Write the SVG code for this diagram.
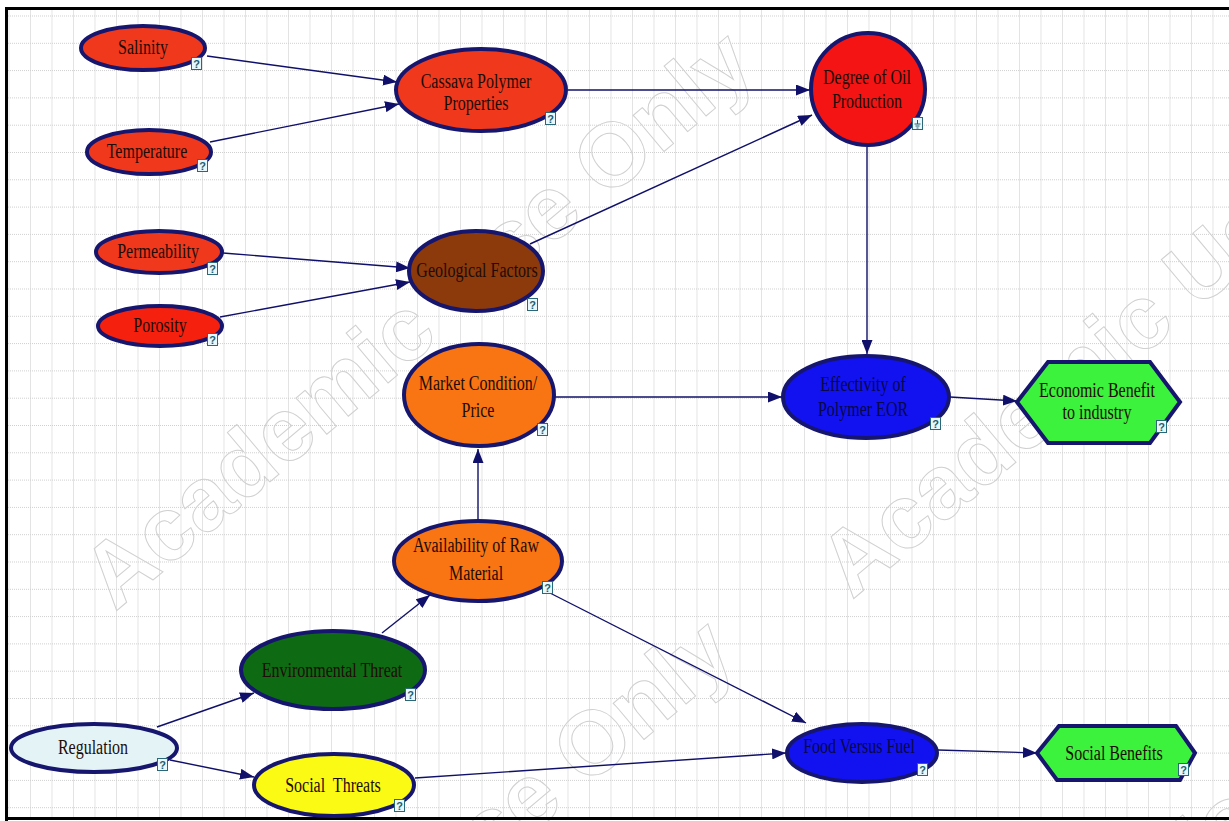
<svg xmlns="http://www.w3.org/2000/svg" xmlns:xlink="http://www.w3.org/1999/xlink" width="1229" height="821" viewBox="0 0 1229 821">
  <defs>
    <style>
      .gv { stroke:#e3e3e3; stroke-width:1; }
      .gh { stroke:#cfcfcf; stroke-width:1; stroke-dasharray:1 1; }
      .wm { font-family:"Liberation Sans", Arial, sans-serif; font-weight:bold; font-size:90px; fill:none; stroke:#d0d0d0; stroke-width:1; }
      .edge { stroke:#10106a; stroke-width:1.4; fill:none; marker-end:url(#arrow); }
      .shape { stroke:#16166e; stroke-width:4; }
      .lbl { font-family:"Liberation Serif", "Times New Roman", serif; font-size:20px; text-anchor:middle; fill:#1e0c08; }
      .dark { fill:#08084a; }
      .qbox { fill:#e8f7fb; stroke:#2a6878; stroke-width:1; }
      .qmark { font-family:"Liberation Sans", Arial, sans-serif; font-weight:bold; font-size:11px; text-anchor:middle; fill:#1c5e70; }
    </style>
    <marker id="arrow" markerUnits="userSpaceOnUse" markerWidth="15" markerHeight="11" refX="14" refY="5.5" orient="auto">
      <path d="M0,0 L14,5.5 L0,11 Z" fill="#10106a"/>
    </marker>
    <!-- small "?" state badge shown at the lower right of each node -->
    <symbol id="q" viewBox="0 0 11 13" width="11" height="13">
      <rect class="qbox" x="0.5" y="0.5" width="10" height="12"/>
      <text class="qmark" x="5.5" y="10.5">?</text>
    </symbol>
    <!-- grid pattern -->
    <pattern id="gridV" x="8.5" y="0" width="21.5" height="821" patternUnits="userSpaceOnUse">
      <line class="gv" x1="0.5" y1="0" x2="0.5" y2="821"/>
    </pattern>
    <pattern id="gridH" x="0" y="15.5" width="1229" height="27.3" patternUnits="userSpaceOnUse">
      <line class="gh" x1="0" y1="0.5" x2="1229" y2="0.5"/>
    </pattern>
  </defs>

  <!-- canvas -->
  <rect x="0" y="0" width="1229" height="821" fill="#ffffff"/>
  <rect x="8" y="10" width="1221" height="807" fill="url(#gridV)"/>
  <rect x="8" y="10" width="1221" height="807" fill="url(#gridH)"/>

  <!-- watermark -->
  <g id="watermark">
    <text class="wm" transform="translate(115,612) rotate(-40)">Academic Use Only</text>
    <text class="wm" transform="translate(852,600) rotate(-40)">Academic Use Only</text>
    <text class="wm" transform="translate(95,1200) rotate(-40)">Academic Use Only</text>
    <text class="wm" transform="translate(832,1190) rotate(-40)">Academic Use Only</text>
  </g>

  <!-- frame -->
  <g id="frame" stroke="#000" stroke-width="3">
    <line x1="6.5" y1="7" x2="6.5" y2="821"/>
    <line x1="5" y1="8.5" x2="1229" y2="8.5"/>
    <line x1="5" y1="818.5" x2="1229" y2="818.5"/>
  </g>

  <!-- connectors -->
  <g id="connectors">
    <line class="edge" x1="207" y1="56" x2="397" y2="82"/>
    <line class="edge" x1="210" y1="142" x2="399" y2="104"/>
    <line class="edge" x1="568" y1="90" x2="810" y2="90"/>
    <line class="edge" x1="530" y1="244" x2="812" y2="115"/>
    <line class="edge" x1="223" y1="253" x2="410" y2="268"/>
    <line class="edge" x1="220" y1="317" x2="410" y2="282"/>
    <line class="edge" x1="867" y1="147" x2="867" y2="354"/>
    <line class="edge" x1="555" y1="397" x2="782" y2="397"/>
    <line class="edge" x1="950" y1="397" x2="1017" y2="401"/>
    <line class="edge" x1="478" y1="520" x2="478" y2="449"/>
    <line class="edge" x1="382" y1="633" x2="430" y2="595"/>
    <line class="edge" x1="548" y1="592" x2="806" y2="723"/>
    <line class="edge" x1="157" y1="727" x2="254" y2="693"/>
    <line class="edge" x1="170" y1="760" x2="254" y2="777"/>
    <line class="edge" x1="415" y1="778" x2="786" y2="753"/>
    <line class="edge" x1="938" y1="750" x2="1037" y2="753"/>
  </g>

  <!-- nodes -->
  <g id="salinity">
    <ellipse class="shape" cx="143" cy="48" rx="62" ry="22" fill="#f0381c"/>
    <text class="lbl" transform="translate(143,54) scale(0.8,1)">Salinity</text>
    <use href="#q" x="191" y="57"/>
  </g>
  <g id="temperature">
    <ellipse class="shape" cx="149" cy="152" rx="62" ry="22" fill="#f0381c"/>
    <text class="lbl" transform="translate(147,158) scale(0.8,1)">Temperature</text>
    <use href="#q" x="197" y="159"/>
  </g>
  <g id="cassava-polymer-properties">
    <ellipse class="shape" cx="481" cy="90" rx="85" ry="41" fill="#f0381c"/>
    <text class="lbl" transform="translate(476,88) scale(0.8,1)">Cassava Polymer</text>
    <text class="lbl" transform="translate(476,110) scale(0.8,1)">Properties</text>
    <use href="#q" x="545" y="112"/>
  </g>
  <g id="degree-of-oil-production">
    <ellipse class="shape" cx="868" cy="89" rx="57" ry="56" fill="#f51414"/>
    <text class="lbl" transform="translate(867,84) scale(0.8,1)">Degree of Oil</text>
    <text class="lbl" transform="translate(867,108) scale(0.8,1)">Production</text>
    <rect class="qbox" x="912.5" y="117.5" width="10" height="12"/>
    <path d="M917.5,120 V124 M914.5,124 H920.5 M915.5,126 H919.5 M916.5,128 H918.5" stroke="#1c5e70" stroke-width="1"/>
  </g>
  <g id="permeability">
    <ellipse class="shape" cx="159" cy="252" rx="63" ry="21" fill="#f0381c"/>
    <text class="lbl" transform="translate(158,258) scale(0.8,1)">Permeability</text>
    <use href="#q" x="207" y="262"/>
  </g>
  <g id="porosity">
    <ellipse class="shape" cx="160" cy="326" rx="62" ry="20" fill="#f5200e"/>
    <text class="lbl" transform="translate(160,332) scale(0.8,1)">Porosity</text>
    <use href="#q" x="207" y="333"/>
  </g>
  <g id="geological-factors">
    <ellipse class="shape" cx="476" cy="271" rx="67" ry="40" fill="#8c3a0c"/>
    <text class="lbl" transform="translate(477,277) scale(0.8,1)">Geological Factors</text>
    <use href="#q" x="527" y="298"/>
  </g>
  <g id="market-condition-price">
    <ellipse class="shape" cx="479" cy="395" rx="75" ry="51" fill="#f97412"/>
    <text class="lbl" transform="translate(478,390) scale(0.8,1)">Market Condition/</text>
    <text class="lbl" transform="translate(478,417) scale(0.8,1)">Price</text>
    <use href="#q" x="537" y="423"/>
  </g>
  <g id="effectivity-of-polymer-eor">
    <ellipse class="shape" cx="866" cy="397" rx="83" ry="41" fill="#1212f0"/>
    <text class="lbl dark" transform="translate(863,391) scale(0.8,1)">Effectivity of</text>
    <text class="lbl dark" transform="translate(863,416) scale(0.8,1)">Polymer EOR</text>
    <use href="#q" x="930" y="417"/>
  </g>
  <g id="economic-benefit">
    <polygon class="shape" points="1017,402 1048,362 1150,362 1180,402 1150,443 1048,443" fill="#3cf23c"/>
    <text class="lbl" transform="translate(1097,397) scale(0.8,1)">Economic Benefit</text>
    <text class="lbl" transform="translate(1097,419) scale(0.8,1)">to industry</text>
    <use href="#q" x="1156" y="420"/>
  </g>
  <g id="availability-of-raw-material">
    <ellipse class="shape" cx="478" cy="561" rx="84" ry="40" fill="#f97412"/>
    <text class="lbl" transform="translate(476,552) scale(0.8,1)">Availability of Raw</text>
    <text class="lbl" transform="translate(476,580) scale(0.8,1)">Material</text>
    <use href="#q" x="542" y="581"/>
  </g>
  <g id="environmental-threat">
    <ellipse class="shape" cx="333" cy="670" rx="92" ry="39" fill="#0e6b14"/>
    <text class="lbl" transform="translate(332,677) scale(0.8,1)">Environmental Threat</text>
    <use href="#q" x="405" y="688"/>
  </g>
  <g id="regulation">
    <ellipse class="shape" cx="94" cy="748" rx="83" ry="24" fill="#e4f3f6"/>
    <text class="lbl" transform="translate(93,754) scale(0.8,1)">Regulation</text>
    <use href="#q" x="157" y="758"/>
  </g>
  <g id="social-threats">
    <ellipse class="shape" cx="334" cy="785" rx="80" ry="31" fill="#fafa14"/>
    <text class="lbl" transform="translate(333,792) scale(0.8,1)" xml:space="preserve">Social  Threats</text>
    <use href="#q" x="394" y="799"/>
  </g>
  <g id="food-versus-fuel">
    <ellipse class="shape" cx="862" cy="753" rx="75" ry="29" fill="#1212f0"/>
    <text class="lbl dark" transform="translate(859,753) scale(0.8,1)">Food Versus Fuel</text>
    <use href="#q" x="917" y="763"/>
  </g>
  <g id="social-benefits">
    <polygon class="shape" points="1037,753 1059,726 1176,726 1195,753 1180,780 1057,780" fill="#3cf23c"/>
    <text class="lbl" transform="translate(1114,760) scale(0.8,1)">Social Benefits</text>
    <use href="#q" x="1178" y="763"/>
  </g>
</svg>
